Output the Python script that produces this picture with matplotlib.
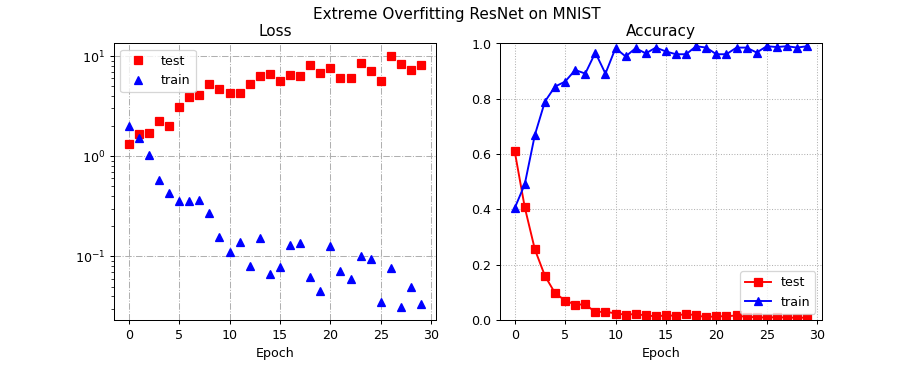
import numpy as np
import matplotlib
matplotlib.use('Agg')
import matplotlib.pyplot as plt

# loss / accuracy per epoch
epoch = np.arange(30)

loss_test = [1.34, 1.67, 1.69, 2.24, 2.0, 3.09, 3.89, 4.04, 5.2, 4.64,
             4.23, 4.23, 5.29, 6.3, 6.6, 5.58, 6.46, 6.27, 8.13, 6.8,
             7.53, 5.98, 6.07, 8.45, 7.03, 5.62, 10.0, 8.38, 7.3, 8.13]
loss_train = [2.0, 1.52, 1.04, 0.575, 0.43, 0.355, 0.36, 0.37, 0.271, 0.156,
              0.11, 0.139, 0.0807, 0.154, 0.067, 0.078, 0.131, 0.136, 0.0626, 0.0457,
              0.128, 0.0724, 0.0593, 0.1016, 0.094, 0.0355, 0.0764, 0.0311, 0.05, 0.0334]

acc_test = [0.61, 0.407, 0.255, 0.159, 0.097, 0.070, 0.055, 0.056, 0.028, 0.030,
            0.023, 0.019, 0.021, 0.016, 0.013, 0.016, 0.015, 0.022, 0.016, 0.010,
            0.013, 0.013, 0.016, 0.010, 0.010, 0.008, 0.010, 0.008, 0.008, 0.008]
acc_train = [0.404, 0.491, 0.669, 0.79, 0.844, 0.862, 0.904, 0.891, 0.967, 0.891,
             0.983, 0.953, 0.983, 0.964, 0.985, 0.971, 0.961, 0.961, 0.99, 0.985,
             0.961, 0.961, 0.985, 0.985, 0.967, 0.99, 0.987, 0.99, 0.985, 0.99]

fig = plt.figure(figsize=(10, 4.01), dpi=91.3)
fig.subplots_adjust(left=0.125, right=0.9, bottom=0.126, top=0.881, wspace=0.2)

#loss on log scale, markers only
ax = fig.add_subplot(1, 2, 1)
ax.plot(epoch, loss_test, 'rs', markersize=7, label='test')
ax.plot(epoch, loss_train, 'b^', markersize=7, label='train')
ax.set_yscale('log')
ax.grid(True, linestyle='-.', color='#b0b0b0')
ax.legend(loc='upper left')
ax.set_title('Loss')
ax.set_xlabel('Epoch')

#accuracy with lines
ax2 = fig.add_subplot(1, 2, 2)
ax2.plot(epoch, acc_test, 'rs-', label='test')
ax2.plot(epoch, acc_train, 'b^-', label='train')
ax2.set_ylim(0, 1)
ax2.grid(True, linestyle=':', color='#b0b0b0')
ax2.legend(loc='lower right')
ax2.set_title('Accuracy')
ax2.set_xlabel('Epoch')

fig.suptitle('Extreme Overfitting ResNet on MNIST')
plt.savefig('out.png', dpi=91.3)
